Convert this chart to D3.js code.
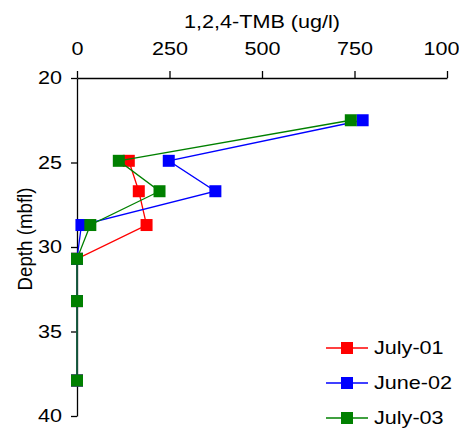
<!DOCTYPE html>
<html>
<head>
<meta charset="utf-8">
<script src="https://cdn.jsdelivr.net/npm/d3@7.9.0/dist/d3.min.js"></script>
<style>
  body { margin: 0; background: #fff; }
  svg { display: block; font-family: "Liberation Sans", Arial, sans-serif; }
</style>
</head>
<body>
<div id="chart"></div>
<script>
// Depth of each sample (mbfl)
const depths = [22.5, 24.9, 26.7, 28.7, 30.7, 33.2, 37.9];
const seriesNames = ['July-01', 'June-02', 'July-03'];
const july01 = [null, 140, 167, 188, 0, 0, 0];
const june02 = [772, 248, 374, 12, 0, 0, 0];
const july03 = [740, 113, 223, 36, 0, 0, 0];
const colors = ['#ff0000', '#0000ff', '#008000'];
const xTicks = [0, 250, 500, 750, 1000];
const yTicks = [20, 25, 30, 35, 40];

const width = 459;
const height = 435;
const margin = { top: 78, right: 12, bottom: 19, left: 77 };
const fs = 18;       // font size
const sx = 1.2;      // the reference text is a bit wider than normal

const svg = d3.select('#chart')
    .append('svg')
    .attr('width', width)
    .attr('height', height);

const x = d3.scaleLinear()
    .domain([0, 1000])
    .range([margin.left, width - margin.right]);

const y = d3.scaleLinear()
    .domain([20, 40])
    .range([margin.top, height - margin.bottom]);

const series = [july01, june02, july03].map((vals, i) => ({
    name: seriesNames[i],
    color: colors[i],
    points: depths.map((d, j) => ({ depth: d, value: vals[j] })).filter(p => p.value !== null),
}));

// Axes
const xAxis = svg.append('g')
    .attr('transform', `translate(0, ${margin.top})`)
    .call(d3.axisTop(x).tickValues(xTicks).tickFormat(d3.format('d'))
        .tickSize(7).tickPadding(16).tickSizeOuter(0));

const yAxis = svg.append('g')
    .attr('transform', `translate(${margin.left}, 0)`)
    .call(d3.axisLeft(y).tickValues(yTicks).tickSize(6).tickPadding(9).tickSizeOuter(0));

[xAxis, yAxis].forEach(g => {
    g.select('.domain').attr('stroke', '#000').attr('stroke-width', 1.3);
    g.selectAll('.tick line').attr('stroke', '#000').attr('stroke-width', 1.3);
    g.selectAll('.tick text')
        .attr('fill', '#000')
        .attr('transform', `scale(${sx},1)`)
        .style('font-size', fs + 'px')
        .style('font-family', '"Liberation Sans", Arial, sans-serif');
});
yAxis.selectAll('.tick text').attr('x', -15 / sx);

// Axis titles
svg.append('text')
    .attr('transform', `translate(${(x(0) + x(1000)) / 2}, 28) scale(${sx},1)`)
    .attr('text-anchor', 'middle')
    .style('font-size', fs + 'px')
    .text('1,2,4-TMB (ug/l)');

svg.append('text')
    .attr('transform', `translate(32, 239) rotate(-90) scale(1.04,1.15)`)
    .attr('text-anchor', 'middle')
    .style('font-size', fs + 'px')
    .text('Depth (mbfl)');

// Lines and markers
const line = d3.line()
    .x(d => x(d.value))
    .y(d => y(d.depth));

const ms = 12;

series.forEach(s => {
    const g = svg.append('g');
    g.append('path')
        .datum(s.points)
        .attr('d', line)
        .attr('fill', 'none')
        .attr('stroke', s.color)
        .attr('stroke-width', 1.3);

    g.selectAll('rect')
        .data(s.points)
        .join('rect')
        .attr('x', d => x(d.value) - ms / 2)
        .attr('y', d => y(d.depth) - ms / 2)
        .attr('width', ms)
        .attr('height', ms)
        .attr('fill', s.color);
});

// Legend
const legend = svg.append('g')
    .attr('transform', 'translate(326, 348)');

series.forEach((s, i) => {
    const row = legend.append('g').attr('transform', `translate(0, ${i * 35})`);
    row.append('line')
        .attr('x1', 0).attr('x2', 42)
        .attr('stroke', s.color)
        .attr('stroke-width', 1.3);
    row.append('rect')
        .attr('x', 21 - ms / 2).attr('y', -ms / 2)
        .attr('width', ms).attr('height', ms)
        .attr('fill', s.color);
    row.append('text')
        .attr('transform', `translate(48, 0) scale(${sx},1)`)
        .attr('dy', '0.35em')
        .style('font-size', fs + 'px')
        .text(s.name);
});
</script>
</body>
</html>
